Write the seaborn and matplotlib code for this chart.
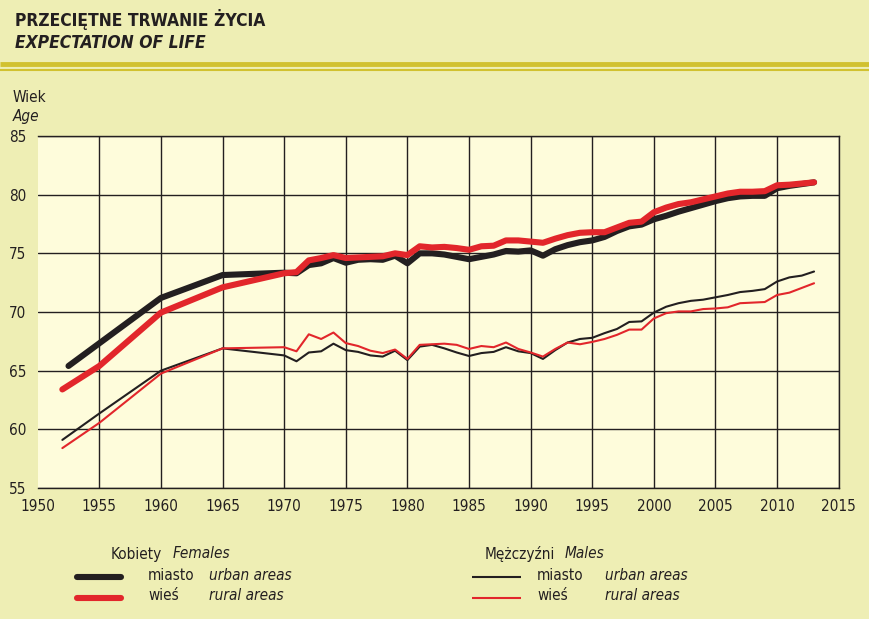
import numpy as np
import pandas as pd
import matplotlib.pyplot as plt
import seaborn as sns

# Life expectancy in Poland
years_early_fu = [1952.5, 1960, 1965]
years_early = [1952, 1955, 1960, 1965]
years_late = list(range(1970, 2014))

# Kobiety - miasto (females, urban)
females_urban = [65.4, 71.2, 73.15] + [
    73.35, 73.3, 74.0, 74.15, 74.6, 74.2, 74.45, 74.5, 74.45, 74.8,
    74.15, 75.0, 75.0, 74.9, 74.7, 74.5, 74.7, 74.9, 75.2, 75.15,
    75.25, 74.8, 75.35, 75.7, 75.95, 76.1, 76.4, 76.9, 77.3, 77.45,
    77.9, 78.2, 78.55, 78.85, 79.15, 79.45, 79.7, 79.85, 79.9, 79.9,
    80.55, 80.75, 80.9, 81.05]

# Kobiety - wieś (females, rural)
females_rural = [63.4, 65.4, 69.95, 72.1] + [
    73.3, 73.4, 74.4, 74.6, 74.85, 74.6, 74.65, 74.7, 74.75, 75.0,
    74.85, 75.6, 75.5, 75.55, 75.45, 75.3, 75.6, 75.65, 76.1, 76.1,
    76.0, 75.9, 76.25, 76.55, 76.75, 76.8, 76.8, 77.2, 77.6, 77.7,
    78.5, 78.9, 79.2, 79.35, 79.6, 79.85, 80.1, 80.25, 80.25, 80.3,
    80.8, 80.85, 80.95, 81.05]

# Mężczyźni - miasto (males, urban)
males_urban = [59.1, 61.35, 65.0, 66.9] + [
    66.3, 65.8, 66.55, 66.65, 67.3, 66.75, 66.6, 66.3, 66.2, 66.7,
    65.9, 67.05, 67.2, 66.9, 66.55, 66.25, 66.5, 66.6, 67.0, 66.65,
    66.5, 66.0, 66.75, 67.4, 67.7, 67.8, 68.2, 68.55, 69.15, 69.2,
    69.95, 70.45, 70.75, 70.95, 71.05, 71.25, 71.45, 71.7, 71.8, 71.95,
    72.6, 72.95, 73.1, 73.45]

# Mężczyźni - wieś (males, rural)
males_rural = [58.4, 60.55, 64.75, 66.9] + [
    67.0, 66.65, 68.1, 67.7, 68.25, 67.35, 67.1, 66.7, 66.5, 66.8,
    66.0, 67.2, 67.25, 67.3, 67.2, 66.85, 67.1, 67.0, 67.4, 66.85,
    66.55, 66.2, 66.85, 67.4, 67.25, 67.45, 67.7, 68.05, 68.5, 68.5,
    69.45, 69.9, 70.05, 70.05, 70.25, 70.3, 70.4, 70.75, 70.8, 70.85,
    71.45, 71.65, 72.05, 72.45]

x_ticks = list(range(1950, 2016, 5))
y_ticks = list(range(55, 86, 5))

BLACK = '#231F20'
RED = '#E2262B'
OUTER = '#EEEEB4'
INNER = '#FEFCDB'

sns.set_theme(style="white")
plt.rcParams['font.family'] = ['DejaVu Sans']
plt.rcParams['font.stretch'] = 'condensed'

fig = plt.figure(figsize=(8.69, 6.19), dpi=100, facecolor=OUTER)
W, H = 869, 619

# main chart area
ax = fig.add_axes([37.7 / W, 1 - 488 / H, (838.7 - 37.7) / W, (488 - 136) / H])
ax.set_facecolor(INNER)

series = [
    (years_early_fu + years_late, females_urban, BLACK, 4.4),
    (years_early + years_late, females_rural, RED, 4.4),
    (years_early + years_late, males_urban, BLACK, 1.5),
    (years_early + years_late, males_rural, RED, 1.5),
]
for xs, ys, col, lw in series:
    sns.lineplot(x=xs, y=ys, color=col, linewidth=lw, ax=ax, sort=False,
                 solid_capstyle='round', solid_joinstyle='round', zorder=3)

ax.set_xlim(1950, 2015)
ax.set_ylim(55, 85)
ax.set_xticks(x_ticks)
ax.set_yticks(y_ticks)
ax.grid(True, color=BLACK, linewidth=1.0)
ax.xaxis.get_gridlines()[0].set_visible(False)
for side in ['top', 'bottom', 'right']:
    ax.spines[side].set_visible(True)
    ax.spines[side].set_color(BLACK)
    ax.spines[side].set_linewidth(1.0)
ax.spines['left'].set_visible(False)
ax.tick_params(length=0, labelsize=11, colors=BLACK)
ax.tick_params(axis='x', pad=8)
ax.tick_params(axis='y', pad=8)
ax.set_xlabel('')
ax.set_ylabel('')

# overlay in pixel coordinates for header, rule lines and legend
ov = fig.add_axes([0, 0, 1, 1], facecolor='none')
ov.set_xlim(0, W)
ov.set_ylim(H, 0)
ov.axis('off')

ov.text(15, 20, 'PRZECIĘTNE TRWANIE ŻYCIA', fontsize=12.5, fontweight='bold',
        color=BLACK, va='center', ha='left')
ov.text(15, 43, 'EXPECTATION OF LIFE', fontsize=12.5, fontweight='bold',
        style='italic', color=BLACK, va='center', ha='left')
ov.plot([0, W], [64, 64], color='#D1C130', linewidth=3.5, solid_capstyle='butt')
ov.plot([0, W], [69.5, 69.5], color='#D1C130', linewidth=1.5, solid_capstyle='butt')

ov.text(13, 98, 'Wiek', fontsize=11, color=BLACK, va='center', ha='left')
ov.text(13, 117, 'Age', fontsize=11, style='italic', color=BLACK, va='center', ha='left')

# legend
fs = 11
ov.text(111, 554, 'Kobiety', fontsize=fs, color=BLACK, va='center')
ov.text(173, 554, 'Females', fontsize=fs, style='italic', color=BLACK, va='center')
ov.plot([77, 121], [576.5, 576.5], color=BLACK, linewidth=4.4, solid_capstyle='round')
ov.plot([77, 121], [597.5, 597.5], color=RED, linewidth=4.4, solid_capstyle='round')
ov.text(148, 575, 'miasto', fontsize=fs, color=BLACK, va='center')
ov.text(209, 575, 'urban areas', fontsize=fs, style='italic', color=BLACK, va='center')
ov.text(148, 596, 'wieś', fontsize=fs, color=BLACK, va='center')
ov.text(209, 596, 'rural areas', fontsize=fs, style='italic', color=BLACK, va='center')

ov.text(485, 554, 'Mężczyźni', fontsize=fs, color=BLACK, va='center')
ov.text(565, 554, 'Males', fontsize=fs, style='italic', color=BLACK, va='center')
ov.plot([472, 521], [576.5, 576.5], color=BLACK, linewidth=1.5, solid_capstyle='butt')
ov.plot([472, 521], [597.5, 597.5], color=RED, linewidth=1.5, solid_capstyle='butt')
ov.text(537, 575, 'miasto', fontsize=fs, color=BLACK, va='center')
ov.text(605, 575, 'urban areas', fontsize=fs, style='italic', color=BLACK, va='center')
ov.text(537, 596, 'wieś', fontsize=fs, color=BLACK, va='center')
ov.text(605, 596, 'rural areas', fontsize=fs, style='italic', color=BLACK, va='center')

plt.savefig("out.png", dpi=100, facecolor=OUTER)
